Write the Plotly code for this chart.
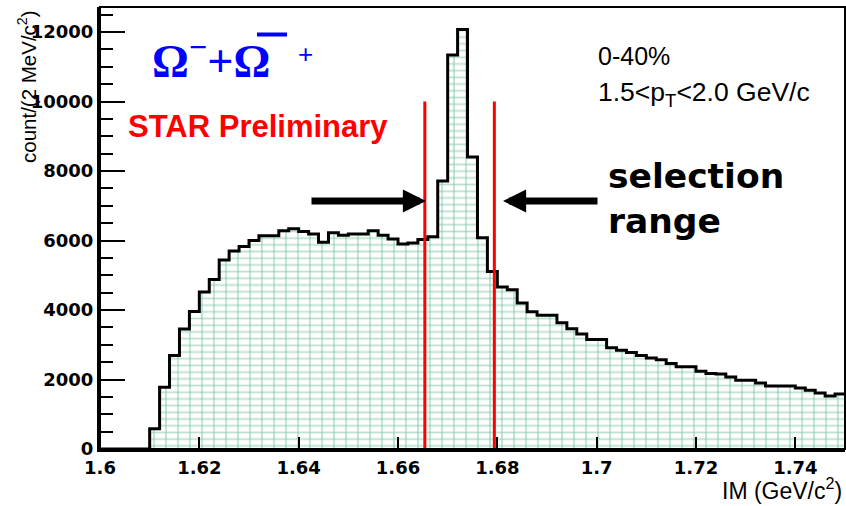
import numpy as np
import plotly.graph_objects as go

# Invariant-mass histogram, 2 MeV/c^2 bins starting at 1.600 GeV/c^2
BIN_LOW = 1.600
BIN_WIDTH = 0.002
counts = [
    0, 0, 0, 0, 0,
    580, 1780, 2690, 3450, 3960,
    4520, 4880, 5440, 5700, 5830,
    6000, 6140, 6140, 6280, 6340,
    6260, 6190, 5950, 6220, 6150,
    6190, 6190, 6280, 6150, 6040,
    5900, 5930, 6030, 6110, 7710,
    11340, 12070, 8400, 6080, 5110,
    4660, 4580, 4200, 3950, 3850,
    3850, 3630, 3460, 3310, 3150,
    3150, 2915, 2845, 2775, 2690,
    2620, 2570, 2460, 2365, 2365,
    2235, 2170, 2155, 2070, 1975,
    1975, 1900, 1815, 1815, 1815,
    1755, 1690, 1610, 1525, 1580,
]

x_tick_vals = [1.60, 1.62, 1.64, 1.66, 1.68, 1.70, 1.72, 1.74]
x_tick_text = ["1.6", "1.62", "1.64", "1.66", "1.68", "1.7", "1.72", "1.74"]
y_tick_vals = [0, 2000, 4000, 6000, 8000, 10000, 12000]
y_tick_text = ["0", "2000", "4000", "6000", "8000", "10000", "12000"]

# mass window used for the signal selection
selection_low = 1.6654
selection_high = 1.6794
selection_line_top = 10000

X_RANGE = [1.60, 1.75]
Y_RANGE = [0, 12720]

# page geometry
FIG_W, FIG_H = 846, 506
M_L, M_R, M_T, M_B = 100, 1, 7, 57
PLOT_W = FIG_W - M_L - M_R
PLOT_H = FIG_H - M_T - M_B


def px(x):
    return (x - M_L) / PLOT_W


def py(y):
    return (FIG_H - M_B - y) / PLOT_H


edges = BIN_LOW + BIN_WIDTH * np.arange(len(counts) + 1)
step_y = counts + [counts[-1]]

GREEN = "#74c29b"

fig = go.Figure()

# brick-like fill: horizontal mortar rows
fig.add_trace(go.Scatter(
    x=edges, y=step_y, mode="lines", line_shape="hv",
    line=dict(width=0, color="rgba(0,0,0,0)"),
    fill="tozeroy", fillcolor="white",
    fillpattern=dict(shape="-", size=6.7, solidity=0.26,
                     fgcolor=GREEN, bgcolor="white"),
    hoverinfo="skip", showlegend=False,
))
# vertical joints
fig.add_trace(go.Scatter(
    x=edges, y=step_y, mode="lines", line_shape="hv",
    line=dict(width=0, color="rgba(0,0,0,0)"),
    fill="tozeroy", fillcolor="rgba(0,0,0,0)",
    fillpattern=dict(shape="|", size=12, solidity=0.14,
                     fgcolor=GREEN, bgcolor="rgba(0,0,0,0)"),
    hoverinfo="skip", showlegend=False,
))
# histogram outline
fig.add_trace(go.Scatter(
    x=edges, y=step_y, mode="lines", line_shape="hv",
    line=dict(width=3, color="black"),
    hoverinfo="skip", showlegend=False,
))

# selection window markers
for xs in (selection_low, selection_high):
    fig.add_shape(type="line", xref="x", yref="y",
                  x0=xs, x1=xs, y0=0, y1=selection_line_top,
                  line=dict(color="#ff0000", width=3), layer="above")

# frame around the plot area
fig.add_shape(type="rect", xref="paper", yref="paper", x0=0, x1=1, y0=0, y1=1,
              line=dict(color="black", width=2), layer="above")

# bar over the anti-particle symbol
fig.add_shape(type="line", xref="paper", yref="paper",
              x0=px(257), x1=px(287), y0=py(34.5), y1=py(34.5),
              line=dict(color="#0000ff", width=4), layer="above")

annotations = [
    # particle label
    dict(text="<b>Ω<sup>−</sup>+Ω</b>",
         x=px(150), y=py(58), xanchor="left", yanchor="middle",
         font=dict(family="Liberation Serif", size=46, color="#0000ff")),
    dict(text="+",
         x=px(305.5), y=py(54), xanchor="center", yanchor="middle",
         font=dict(family="Liberation Sans", size=26, color="#0000ff")),
    dict(text="<b>STAR Preliminary</b>",
         x=px(126), y=py(126), xanchor="left", yanchor="middle",
         font=dict(family="Liberation Sans", size=31, color="#ff0000")),
    dict(text="0-40%",
         x=px(596), y=py(56), xanchor="left", yanchor="middle",
         font=dict(family="Liberation Sans", size=25, color="black")),
    dict(text="1.5&lt;p<sub>T</sub>&lt;2.0 GeV/c",
         x=px(596), y=py(94), xanchor="left", yanchor="middle",
         font=dict(family="Liberation Sans", size=26.5, color="black")),
    dict(text="<b>selection</b>",
         x=px(606), y=py(176), xanchor="left", yanchor="middle",
         font=dict(family="DejaVu Sans", size=34.5, color="black")),
    dict(text="<b>range</b>",
         x=px(606), y=py(221), xanchor="left", yanchor="middle",
         font=dict(family="DejaVu Sans", size=34.5, color="black")),
    # axis titles
    dict(text="count/(2 MeV/c<sup>2</sup>)",
         x=px(27), y=py(87), xanchor="center", yanchor="middle", textangle=-90,
         font=dict(family="Liberation Sans", size=20.5, color="black")),
    dict(text="IM (GeV/c<sup>2</sup>)",
         x=px(844), y=py(489), xanchor="right", yanchor="middle",
         font=dict(family="Liberation Sans", size=23, color="black")),
    # arrows pointing at the selection window
    dict(text="", x=px(426), y=py(201), ax=310 - 426, ay=0,
         showarrow=True, arrowhead=2, arrowwidth=7, arrowsize=0.66,
         arrowcolor="black"),
    dict(text="", x=px(503), y=py(201), ax=599 - 503, ay=0,
         showarrow=True, arrowhead=2, arrowwidth=7, arrowsize=0.66,
         arrowcolor="black"),
]
for a in annotations:
    a.setdefault("xref", "paper")
    a.setdefault("yref", "paper")
    a.setdefault("showarrow", False)
    fig.add_annotation(**a)

tick_font = dict(family="DejaVu Sans", size=18, color="black", weight="bold")

fig.update_xaxes(
    range=X_RANGE, tickvals=x_tick_vals, ticktext=x_tick_text,
    ticks="inside", ticklen=12, tickwidth=2, tickcolor="black",
    showline=True, linewidth=3, linecolor="black", mirror=False,
    showgrid=False, zeroline=False, tickfont=tick_font,
)
fig.update_yaxes(
    range=Y_RANGE, tickvals=y_tick_vals, ticktext=y_tick_text,
    ticks="inside", ticklen=25, tickwidth=2, tickcolor="black",
    minor=dict(ticks="inside", ticklen=13, tickwidth=2, tickcolor="black",
               dtick=500, tick0=0, showgrid=False),
    showline=True, linewidth=3, linecolor="black", mirror=False,
    showgrid=False, zeroline=False, tickfont=tick_font,
)

fig.update_layout(
    width=FIG_W, height=FIG_H,
    margin=dict(l=M_L, r=M_R, t=M_T, b=M_B, pad=0),
    paper_bgcolor="white", plot_bgcolor="white",
    showlegend=False,
)

fig.write_html("out.html")
